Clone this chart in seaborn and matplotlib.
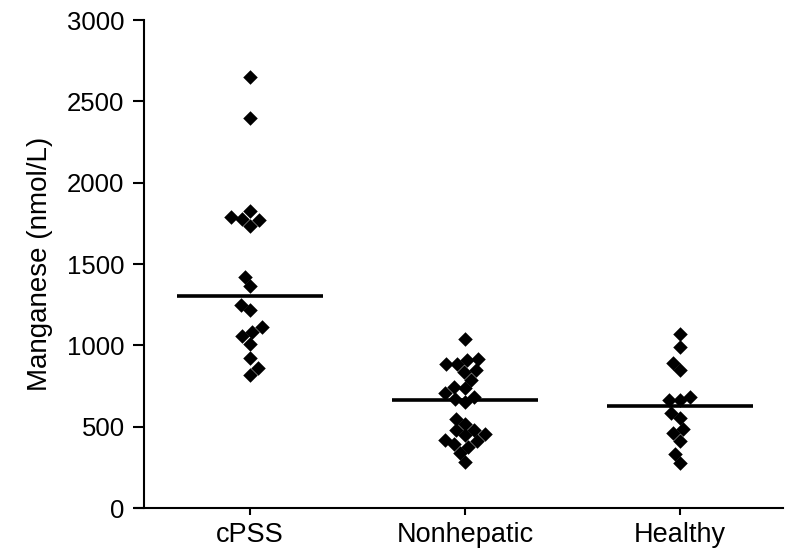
import numpy as np
import pandas as pd
import matplotlib
matplotlib.use("Agg")
import matplotlib.pyplot as plt
import seaborn as sns

categories = ["cPSS", "Nonhepatic", "Healthy"]
cpss = [2650, 2400, 1790, 1770, 1735, 1775, 1825, 1420, 1365, 1245, 1215,
        1110, 1055, 1080, 1010, 920, 860, 815]
nonhepatic = [1041, 884, 918, 908, 888, 847, 837, 790, 745, 739, 704, 673,
              653, 684, 514, 547, 480, 449, 412, 378, 392, 418, 453, 480,
              337, 282]
healthy = [1071, 990, 894, 847, 667, 663, 680, 555, 586, 459, 484, 412,
           331, 276]
yticks = [0, 500, 1000, 1500, 2000, 2500, 3000]
ylabel = "Manganese (nmol/L)"

groups = [cpss, nonhepatic, healthy]
df = pd.DataFrame({
    "group": np.repeat(categories, [len(g) for g in groups]),
    "value": np.concatenate(groups),
})

sns.set_theme(style="ticks")
plt.rcParams["font.family"] = ["Liberation Sans", "DejaVu Sans"]

fig = plt.figure(figsize=(7.92, 5.51), dpi=100)
ax = fig.add_axes([0.1705, 0.078, 0.8181, 0.8857])

sns.swarmplot(data=df, x="group", y="value", order=categories, ax=ax,
              color="black", marker="D", size=7.4, linewidth=0)

medians = [np.median(g) for g in groups]
for i, m in enumerate(medians):
    ax.hlines(m, i - 0.34, i + 0.34, color="black", lw=2.6, zorder=5)

ax.set_xlim(-0.535, 2.479)
ax.set_ylim(0, 3000)
ax.set_yticks(yticks)
ax.set_yticklabels([str(t) for t in yticks])
ax.spines["left"].set_position(("data", -0.493))
ax.spines["right"].set_visible(False)
ax.spines["top"].set_visible(False)
for s in ["left", "bottom"]:
    ax.spines[s].set_linewidth(1.5)
    ax.spines[s].set_color("black")
ax.tick_params(axis="y", length=8, width=1.5, pad=6, labelsize=18.5, colors="black")
ax.tick_params(axis="x", length=5, width=1.5, pad=5, labelsize=19.5, colors="black")
ax.set_xlabel("")
ax.set_ylabel(ylabel, fontsize=20, color="black", labelpad=10)

fig.savefig("out.png", dpi=100, facecolor="white")
